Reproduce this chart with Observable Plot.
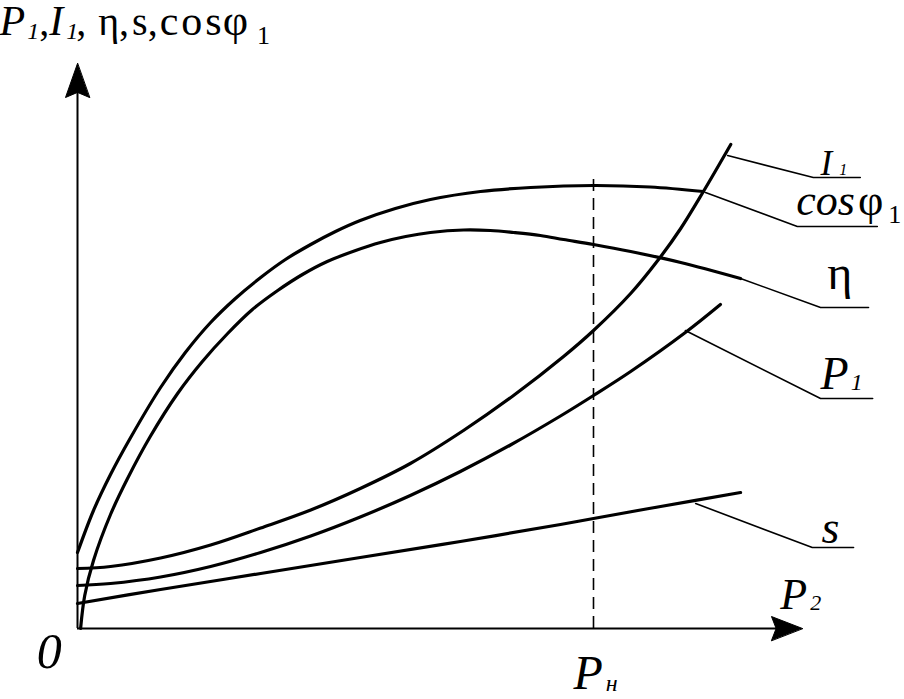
<!DOCTYPE html>
<html><head><meta charset="utf-8">
<script src="https://cdn.jsdelivr.net/npm/d3@7"></script>
<script src="https://cdn.jsdelivr.net/npm/@observablehq/plot@0.6"></script>
<style>
body{margin:0;background:#fff}
#chart text, #chart tspan {font-family: "Liberation Serif", "Times New Roman", "DejaVu Serif", serif !important;}
</style>
</head><body><div id="chart"></div>
<script>
// x: P2 relative to rated power Pн (Pн = 1); y: relative value of each quantity
const cosX = [0, 0.031, 0.064, 0.103, 0.161, 0.209, 0.258, 0.306, 0.355, 0.403, 0.452, 0.500, 0.548, 0.616, 0.684, 0.781, 0.878, 1.000, 1.110, 1.213];
const cosY = [0.152, 0.236, 0.308, 0.382, 0.482, 0.552, 0.612, 0.660, 0.702, 0.738, 0.768, 0.794, 0.816, 0.840, 0.858, 0.874, 0.882, 0.886, 0.883, 0.874];
const etaX = [0.006, 0.014, 0.031, 0.064, 0.097, 0.141, 0.194, 0.242, 0.291, 0.339, 0.388, 0.436, 0.484, 0.539, 0.587, 0.636, 0.684, 0.748, 0.800, 0.845, 0.897, 0.942, 1.000, 1.072, 1.169, 1.285];
const etaY = [0, 0.066, 0.136, 0.228, 0.300, 0.384, 0.470, 0.534, 0.590, 0.638, 0.676, 0.708, 0.734, 0.756, 0.772, 0.784, 0.792, 0.797, 0.796, 0.792, 0.786, 0.778, 0.768, 0.754, 0.732, 0.700];
const i1X = [0, 0.064, 0.161, 0.258, 0.355, 0.452, 0.548, 0.645, 0.748, 0.845, 0.942, 1.000, 1.072, 1.126, 1.169, 1.213, 1.266];
const i1Y = [0.120, 0.124, 0.141, 0.167, 0.201, 0.237, 0.280, 0.330, 0.396, 0.466, 0.544, 0.596, 0.670, 0.738, 0.800, 0.874, 0.968];
const p1X = [0, 0.064, 0.161, 0.258, 0.355, 0.452, 0.548, 0.645, 0.742, 0.839, 0.936, 1.000, 1.072, 1.178, 1.246];
const p1Y = [0.086, 0.090, 0.103, 0.124, 0.152, 0.185, 0.223, 0.266, 0.314, 0.367, 0.425, 0.466, 0.514, 0.592, 0.648];
const sX = [0, 0.161, 0.355, 0.548, 0.742, 0.936, 1.000, 1.130, 1.285];
const sY = [0.050, 0.078, 0.110, 0.142, 0.174, 0.208, 0.220, 0.244, 0.272];

// leader lines: curve point -> bend -> end of underline
const leaderNames = ["I1", "cos", "eta", "P1", "s"];
const leaderX = [[1.260, 1.426, 1.517], [1.217, 1.395, 1.550], [1.285, 1.440, 1.533], [1.178, 1.440, 1.541], [1.198, 1.424, 1.504]];
const leaderY = [[0.946, 0.902, 0.902], [0.872, 0.804, 0.804], [0.700, 0.642, 0.642], [0.596, 0.460, 0.460], [0.250, 0.162, 0.162]];

// label texts and their anchor (left end of baseline) in data units
const labelTexts = ["I1", "cosφ1", "η", "P1", "s", "P2", "Pн", "0"];
const labelX = [1.440, 1.393, 1.453, 1.440, 1.442, 1.362, 0.961, -0.079];
const labelY = [0.908, 0.828, 0.680, 0.480, 0.172, 0.040, -0.120, -0.078];
const axisTitle = "P1,I1,η,s,cosφ1";

const ratedP = 1;       // Pн
const axisTopY = 1.13;  // tip of the y-axis arrow
const axisEndX = 1.405; // tip of the x-axis arrow

// rich-text styling: [text, size, italic, dx, baseline shift, letter spacing]
const rich = new Map([
  [axisTitle, [["P", 42, 1, -1, 0], ["1", 24, 1, 2, 4], [",", 40, 0, 0, 0], ["I", 42, 1, 0, 0], ["1", 24, 1, 3, 4], [",", 40, 0, -2, 0],
               ["η", 40, 0, 12, 0], [",", 40, 0, 0, 0], ["s", 40, 0, 3, 0], [",", 40, 0, 0, 0], ["cos", 42, 0, 2, 0, 3], ["φ", 44, 0, -2, 0], ["1", 26, 0, 9, 9]]],
  ["I1", [["I", 35, 1, 0, 0], ["1", 16, 1, 7, 0]]],
  ["cosφ1", [["cos", 44, 1, 0, 0], ["φ", 44, 0, 3, 0], ["1", 26, 0, 5, 8]]],
  ["η", [["η", 48, 0, 0, 0]]],
  ["P1", [["P", 46, 1, 0, 0], ["1", 24, 1, 2, 1]]],
  ["s", [["s", 46, 1, 0, 0]]],
  ["P2", [["P", 44, 1, 0, 0], ["2", 22, 1, 3, 1]]],
  ["Pн", [["P", 48, 1, 0, 0], ["н", 24, 1, 3, 2]]],
  ["0", [["0", 50, 1, 0, 0]]]
]);

const curves = [
  ...cosX.map((x, i) => ({name: "cos", x, y: cosY[i]})),
  ...etaX.map((x, i) => ({name: "eta", x, y: etaY[i]})),
  ...i1X.map((x, i) => ({name: "I1", x, y: i1Y[i]})),
  ...p1X.map((x, i) => ({name: "P1", x, y: p1Y[i]})),
  ...sX.map((x, i) => ({name: "s", x, y: sY[i]}))
];
const leaders = leaderNames.flatMap((n, k) => leaderX[k].map((x, i) => ({name: n, x, y: leaderY[k][i]})));
const labels = labelTexts.map((t, i) => ({t, x: labelX[i], y: labelY[i]}));

const serif = "Liberation Serif";
const head = {draw(ctx, l, r) { ctx.moveTo(0, -l); ctx.lineTo(-r, 0); ctx.lineTo(0, -l * 0.15); ctx.lineTo(r, 0); ctx.closePath(); }};

const chart = Plot.plot({
  width: 904, height: 699,
  marginTop: 0, marginRight: 0, marginBottom: 0, marginLeft: 0,
  x: {domain: [-77 / 516, 827 / 516], axis: null},
  y: {domain: [-71 / 500, 628 / 500], axis: null},
  style: {background: "#fff", overflow: "visible"},
  marks: [
    Plot.ruleX([0], {y1: 0, y2: axisTopY - 0.04, strokeWidth: 2}),
    Plot.ruleY([0], {x1: 0, x2: axisEndX - 0.04, strokeWidth: 2}),
    Plot.vector([{x: 0, y: axisTopY}], {x: "x", y: "y", length: 34, r: 12, rotate: 0, anchor: "end", shape: head, fill: "black", stroke: "black", strokeWidth: 1}),
    Plot.vector([{x: axisEndX, y: 0}], {x: "x", y: "y", length: 31, r: 12, rotate: 90, anchor: "end", shape: head, fill: "black", stroke: "black", strokeWidth: 1}),
    Plot.ruleX([ratedP], {y1: 0, y2: 0.9, strokeDasharray: "12,7", strokeWidth: 1.6}),
    Plot.line(curves, {x: "x", y: "y", z: "name", curve: "catmull-rom", stroke: "black", strokeWidth: 3.2}),
    Plot.line(leaders, {x: "x", y: "y", z: "name", stroke: "black", strokeWidth: 1.6}),
    Plot.text(labels, {x: "x", y: "y", text: "t", textAnchor: "start", lineAnchor: "bottom", fontFamily: serif, fontSize: 40, fill: "black"}),
    Plot.text([axisTitle], {frameAnchor: "top-left", text: (d) => d, textAnchor: "start", lineAnchor: "bottom", dx: 0, dy: 34, fontFamily: serif, fontSize: 40, fill: "black"})
  ]
});

// turn label strings into styled runs with sub-scripts
d3.select(chart).selectAll("text").each(function () {
  const spec = rich.get(this.textContent);
  if (!spec) return;
  const el = d3.select(this);
  el.text(null);
  let prev = 0;
  for (const [t, size, it, dx, shift, ls] of spec) {
    const ts = el.append("tspan").text(t)
      .attr("font-size", size)
      .attr("font-style", it ? "italic" : "normal")
      .attr("dx", dx)
      .attr("dy", shift - prev);
    if (ls) ts.attr("letter-spacing", ls);
    prev = shift;
  }
});
document.getElementById("chart").appendChild(chart);
</script>
</body></html>
